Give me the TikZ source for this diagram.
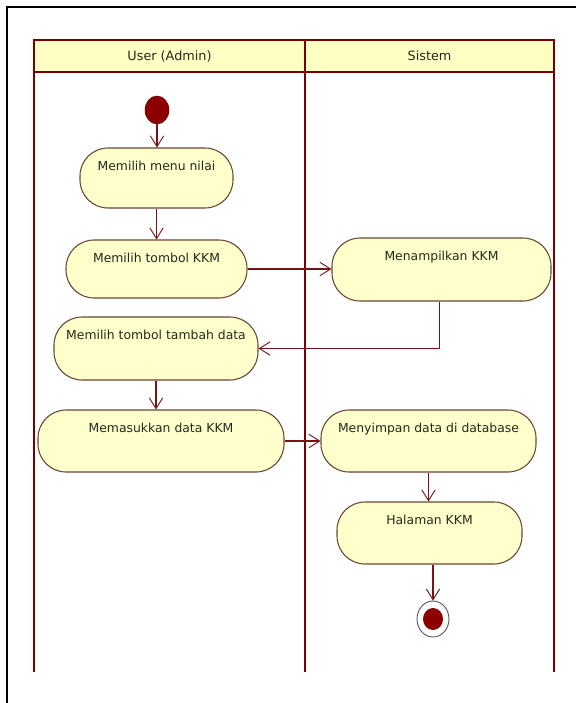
\documentclass[tikz,border=0pt]{standalone}
\usepackage{fontspec}
\setmainfont{DejaVu Sans}
\usetikzlibrary{arrows.meta,shapes.geometric}
\definecolor{lane}{RGB}{122,0,0}
\definecolor{hdr}{RGB}{255,255,196}
\definecolor{actfill}{RGB}{255,255,204}
\definecolor{actline}{RGB}{105,70,50}
\definecolor{flow}{RGB}{122,20,20}
\definecolor{dot}{RGB}{140,0,0}
\definecolor{txt}{RGB}{40,40,30}
\tikzset{
  act/.style={draw=actline, fill=actfill, line width=0.8pt, rounded corners=21pt,
    inner xsep=0pt, inner ysep=4pt, text height=13pt, font=\fontsize{9.3}{11}\selectfont, text=txt},
  flowline/.style={draw=flow, line width=0.8pt, -{Straight Barb[length=8pt,width=10pt,line width=0.7pt]}},
  lanetitle/.style={font=\fontsize{9.6}{11}\selectfont, text=txt},
}
\begin{document}
\begin{tikzpicture}[x=0.75pt,y=-0.75pt]
\useasboundingbox (0,0) rectangle (576,703);
% outer frame
\draw[black, line width=1.6pt] (7,703) -- (7,7) -- (576,7);
% swimlanes
\fill[hdr] (34,40) rectangle (554,72);
\draw[lane, line width=2.2pt] (34,40) rectangle (554,72);
\draw[lane, line width=2.2pt] (34,72) -- (34,672);
\draw[lane, line width=2.2pt] (305,40) -- (305,672);
\draw[lane, line width=2.2pt] (554,72) -- (554,672);
\node[lanetitle] (laneA) at (169.5,56) {User (Admin)};
\node[lanetitle] (laneB) at (429.5,56) {Sistem};
% start
\node[ellipse, fill=dot, draw=dot!80!black, minimum width=18pt, minimum height=21pt, inner sep=0pt] (start) at (157,110) {};
% activities
\node[act, minimum width=114.75pt, text depth=24pt] (n1) at (156.5,178) {Memilih menu nilai};
\node[act, minimum width=135.75pt, text depth=22.5pt] (n2) at (156.5,269) {Memilih tombol KKM};
\node[act, minimum width=164.25pt, text depth=26.25pt] (n3) at (441.5,269.5) {Menampilkan KKM};
\node[act, minimum width=153pt, text depth=26.25pt] (n4) at (156,348.5) {Memilih tombol tambah data};
\node[act, minimum width=184.5pt, text depth=25.5pt] (n5) at (161,441) {Memasukkan data KKM};
\node[act, minimum width=161.25pt, text depth=25.5pt] (n6) at (428.5,441) {Menyimpan data di database};
\node[act, minimum width=138.75pt, text depth=25.5pt] (n7) at (429.5,533) {Halaman KKM};
% end
\node[ellipse, draw=gray!70!black, fill=white, line width=0.7pt, minimum width=24pt, minimum height=27pt, inner sep=0pt] (end) at (433,619) {};
\node[ellipse, fill=dot, minimum width=15pt, minimum height=16.5pt, inner sep=0pt] (endin) at (end.center) {};
% flows
\draw[flowline] (start.south) -- (start.south |- n1.north);
\draw[flowline] (n1.south) -- (n2.north);
\draw[flowline] (n2.east) -- (n2.east -| n3.west);
\draw[flowline] ([xshift=-1.5pt]n3.south) |- (n4.east);
\draw[flowline] (n4.south) -- (n4.south |- n5.north);
\draw[flowline] (n5.east) -- (n5.east -| n6.west);
\draw[flowline] (n6.south) -- (n6.south |- n7.north);
\draw[flowline] (end.north |- n7.south) -- (end.north);
\end{tikzpicture}
\end{document}
